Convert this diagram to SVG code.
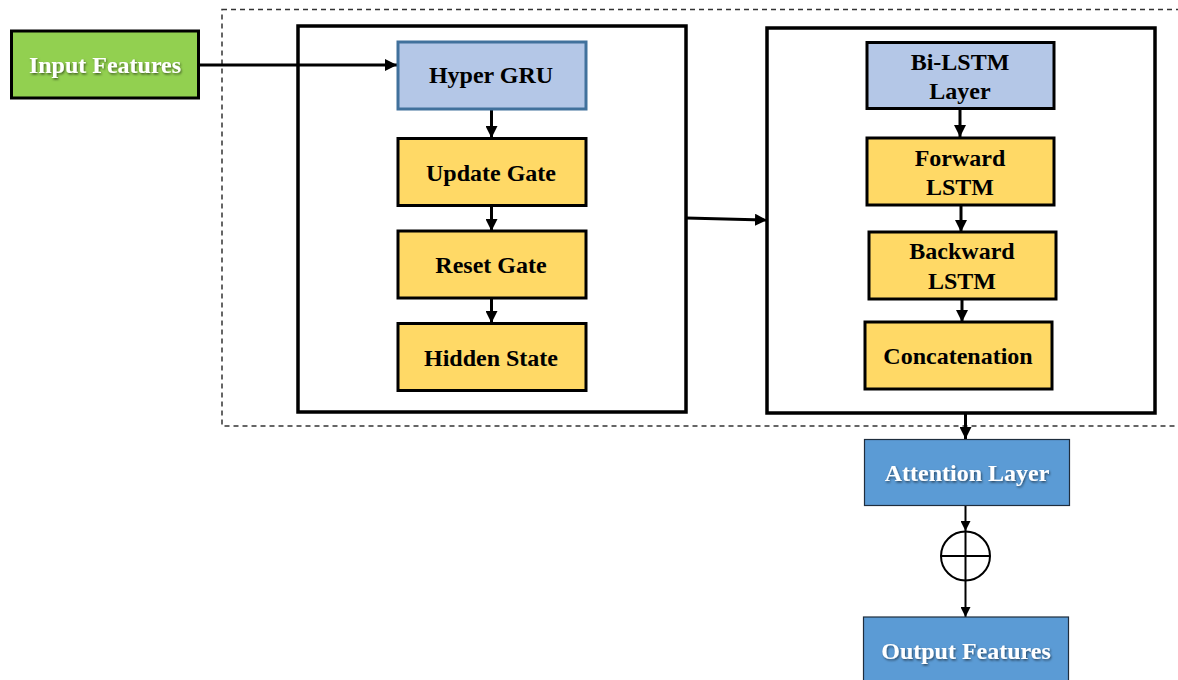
<svg xmlns="http://www.w3.org/2000/svg" width="1178" height="680" viewBox="0 0 1178 680">
<style>
text{font-family:"Liberation Serif","Times New Roman",serif;font-weight:bold;font-size:24px;text-anchor:middle}
.dark{fill:#000}
.light{fill:#fff;filter:url(#sh)}
.gold{fill:#ffd966;stroke:#000;stroke-width:3}
.lblue{fill:#b4c7e7;stroke-width:3}
.blue{fill:#5b9bd5;stroke:#1f2d3d;stroke-width:1.2}
.frame{fill:none;stroke:#000;stroke-width:3.5}
.c{stroke:#000;stroke-width:3;fill:none}
.c2{stroke:#000;stroke-width:2;fill:none}
</style>
<defs>
<marker id="ah" viewBox="0 0 10 10" refX="10" refY="5" markerWidth="4" markerHeight="4" orient="auto" markerUnits="strokeWidth"><path d="M0,0 L10,5 L0,10 z" fill="#000"/></marker>
<marker id="ah2" viewBox="0 0 10 10" refX="10" refY="5" markerWidth="5" markerHeight="5" orient="auto" markerUnits="strokeWidth"><path d="M0,0 L10,5 L0,10 z" fill="#000"/></marker>
<filter id="sh" x="-10%" y="-20%" width="130%" height="150%"><feDropShadow dx="1" dy="1.5" stdDeviation="0.8" flood-color="#000" flood-opacity="0.55"/></filter>
</defs>
<rect x="222" y="9.5" width="970" height="416.5" fill="none" stroke="#333" stroke-width="1.5" stroke-dasharray="5,4"/>
<g id="gru-frame"><rect class="frame" x="298" y="26" width="388" height="386"/></g>
<g id="lstm-frame"><rect class="frame" x="767" y="28" width="388" height="385"/></g>
<g id="connectors">
<path class="c" d="M198,65 H397" marker-end="url(#ah)"/>
<path class="c" d="M491.5,109 V138" marker-end="url(#ah)"/>
<path class="c" d="M491.5,206 V231" marker-end="url(#ah)"/>
<path class="c" d="M491.5,298 V323" marker-end="url(#ah)"/>
<path class="c" d="M686,218 L767,220" marker-end="url(#ah)"/>
<path class="c" d="M960,109 V137" marker-end="url(#ah)"/>
<path class="c" d="M961,206 V232" marker-end="url(#ah)"/>
<path class="c" d="M962,300 V322" marker-end="url(#ah)"/>
<path class="c" d="M965.5,413 V439" marker-end="url(#ah)"/>
<path class="c2" d="M965.5,506 V531" marker-end="url(#ah2)"/>
<path class="c2" d="M965.5,580 V617" marker-end="url(#ah2)"/>
</g>
<g id="input-features"><rect x="11.5" y="31" width="187" height="67" fill="#92d050" stroke="#000" stroke-width="3"/><text class="light" x="105" y="73">Input Features</text></g>
<g id="hyper-gru"><rect class="lblue" x="398" y="42" width="188" height="67" stroke="#41719c"/><text class="dark" x="491" y="83">Hyper GRU</text></g>
<g id="update-gate"><rect class="gold" x="398" y="138.5" width="188" height="67"/><text class="dark" x="491" y="181">Update Gate</text></g>
<g id="reset-gate"><rect class="gold" x="398" y="231" width="188" height="67"/><text class="dark" x="491" y="273">Reset Gate</text></g>
<g id="hidden-state"><rect class="gold" x="398" y="323.5" width="188" height="67"/><text class="dark" x="491" y="366">Hidden State</text></g>
<g id="bi-lstm"><rect class="lblue" x="867" y="42.5" width="187" height="66" stroke="#000"/><text class="dark" x="960" y="70">Bi-LSTM</text><text class="dark" x="960" y="99">Layer</text></g>
<g id="forward-lstm"><rect class="gold" x="867" y="138" width="187" height="67"/><text class="dark" x="960" y="166">Forward</text><text class="dark" x="960" y="195">LSTM</text></g>
<g id="backward-lstm"><rect class="gold" x="869" y="232" width="187" height="67"/><text class="dark" x="962" y="259">Backward</text><text class="dark" x="962" y="289">LSTM</text></g>
<g id="concatenation"><rect class="gold" x="865" y="322" width="187" height="67"/><text class="dark" x="958" y="364">Concatenation</text></g>
<g id="attention-layer"><rect class="blue" x="864.5" y="439.5" width="205" height="66"/><text class="light" x="967" y="481">Attention Layer</text></g>
<g id="sum"><circle cx="965.5" cy="556" r="24.5" fill="#fff" stroke="#000" stroke-width="2"/><path d="M941,556 H990 M965.5,531.5 V580.5" stroke="#000" stroke-width="2"/></g>
<g id="output-features"><rect class="blue" x="863.5" y="617" width="205" height="70"/><text class="light" x="966" y="659">Output Features</text></g>
</svg>
